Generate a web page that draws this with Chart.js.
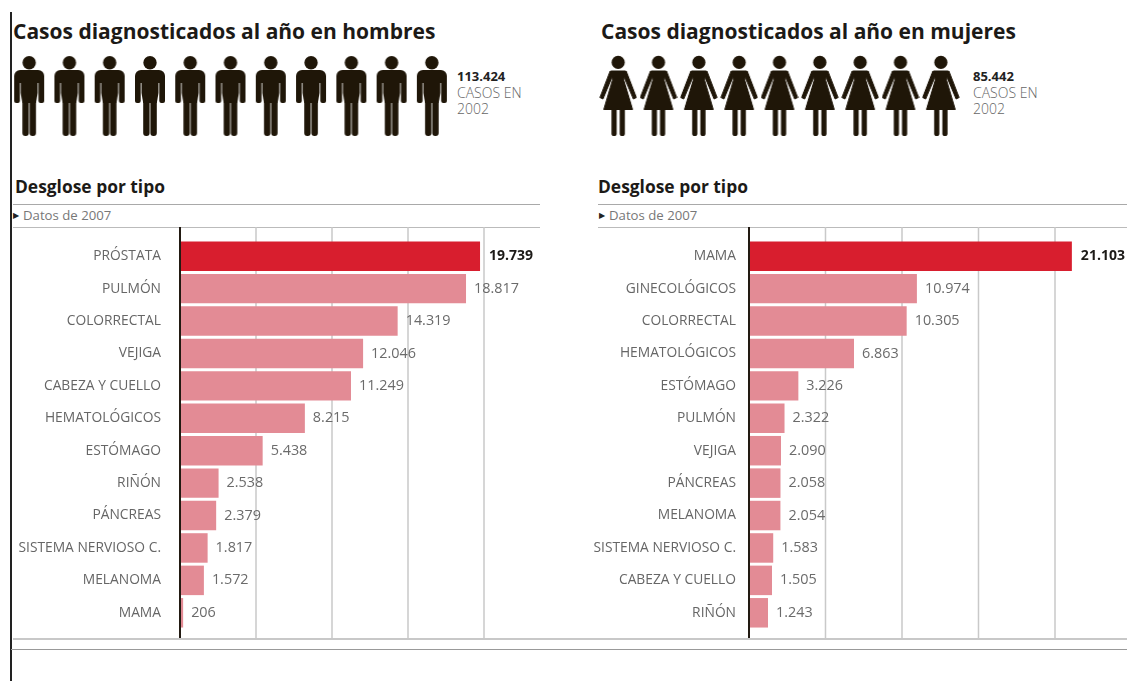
<!DOCTYPE html>
<html lang="es">
<head>
<meta charset="utf-8">
<title>Casos diagnosticados al año</title>
<script src="https://cdn.jsdelivr.net/npm/chart.js@4/dist/chart.umd.min.js"></script>
<style>
  html, body { margin: 0; padding: 0; background: #fff; }
  body { position: relative; width: 1127px; height: 681px; overflow: hidden; font-family: "Open Sans", sans-serif; }
  canvas { position: absolute; display: block; }
  .txt { position: absolute; white-space: nowrap; line-height: 1; }
  .title { font-size: 21px; font-weight: 700; color: #1c1a17; top: 21px; }
  .sub { font-size: 17.4px; font-weight: 700; color: #1c1a17; top: 178px; }
  .note { font-size: 13.2px; color: #777; top: 208.5px; }
  .note i { font-style: normal; font-size: 8px; color: #222; position: relative; top: -2px; margin-right: 4px; }
  .total { font-size: 13px; font-weight: 700; color: #222; top: 70px; }
  .caption { font-size: 14px; font-weight: 300; color: #666; line-height: 16px; top: 85px; }
  .rule { position: absolute; height: 1px; background: #a9a9a9; }
</style>
</head>
<body>
  <div class="rule" style="left:10px;top:12px;width:1.5px;height:669px;background:#222"></div>

  <div class="txt title" style="left:13px">Casos diagnosticados al año en hombres</div>
  <div class="txt title" style="left:601px">Casos diagnosticados al año en mujeres</div>

  <canvas id="menIcons" width="443" height="84" style="left:9px;top:54px"></canvas>
  <canvas id="womenIcons" width="363" height="84" style="left:598px;top:54px"></canvas>

  <div class="txt total" style="left:457px">113.424</div>
  <div class="txt caption" style="left:457px">CASOS EN<br>2002</div>
  <div class="txt total" style="left:973px">85.442</div>
  <div class="txt caption" style="left:973px">CASOS EN<br>2002</div>

  <div class="txt sub" style="left:15px">Desglose por tipo</div>
  <div class="txt sub" style="left:598px">Desglose por tipo</div>
  <div class="rule" style="left:13px;top:204px;width:527px"></div>
  <div class="rule" style="left:598px;top:204px;width:529px"></div>
  <div class="txt note" style="left:13px"><i>&#9654;</i>Datos de 2007</div>
  <div class="txt note" style="left:599px"><i>&#9654;</i>Datos de 2007</div>
  <div class="rule" style="left:13px;top:227px;width:527px;background:#bbb"></div>
  <div class="rule" style="left:598px;top:227px;width:529px;background:#bbb"></div>

  <canvas id="menChart" width="528" height="411" style="left:12px;top:227px"></canvas>
  <canvas id="womenChart" width="542" height="411" style="left:585px;top:227px"></canvas>

  <div class="rule" style="left:13px;top:638px;width:1114px;height:1.5px;background:#c8c8c8"></div>
  <div class="rule" style="left:11px;top:649px;width:1116px;background:#999"></div>

<script>
const menCategories = ["PRÓSTATA", "PULMÓN", "COLORRECTAL", "VEJIGA", "CABEZA Y CUELLO", "HEMATOLÓGICOS", "ESTÓMAGO", "RIÑÓN", "PÁNCREAS", "SISTEMA NERVIOSO C.", "MELANOMA", "MAMA"];
const menValues = [19739, 18817, 14319, 12046, 11249, 8215, 5438, 2538, 2379, 1817, 1572, 206];

const womenCategories = ["MAMA", "GINECOLÓGICOS", "COLORRECTAL", "HEMATOLÓGICOS", "ESTÓMAGO", "PULMÓN", "VEJIGA", "PÁNCREAS", "MELANOMA", "SISTEMA NERVIOSO C.", "CABEZA Y CUELLO", "RIÑÓN"];
const womenValues = [21103, 10974, 10305, 6863, 3226, 2322, 2090, 2058, 2054, 1583, 1505, 1243];

const gridValues = [5000, 10000, 15000, 20000];

// one figure per slot in the pictogram rows
const menIconSlots = [0, 1, 2, 3, 4, 5, 6, 7, 8, 9, 10];
const womenIconSlots = [0, 1, 2, 3, 4, 5, 6, 7, 8];

const INK = "#1f1608";
const RED = "#d81e2e";
const PINK = "#e38b95";

function formatThousands(v) {
  return String(v).replace(/\B(?=(\d{3})+$)/g, ".");
}

// grid and axis run the full height of the canvas, past the bar bands
const fullHeightGrid = {
  id: "fullHeightGrid",
  beforeDatasetsDraw(chart) {
    const { ctx, scales: { x }, height } = chart;
    ctx.save();
    ctx.strokeStyle = "#c9c9c9";
    ctx.lineWidth = 1.5;
    gridValues.forEach(v => {
      const px = x.getPixelForValue(v);
      ctx.beginPath();
      ctx.moveTo(px, 0);
      ctx.lineTo(px, height);
      ctx.stroke();
    });
    ctx.restore();
  },
  afterDatasetsDraw(chart) {
    const { ctx, scales: { x }, height } = chart;
    const px = x.getPixelForValue(0);
    ctx.save();
    ctx.strokeStyle = "#221a12";
    ctx.lineWidth = 2;
    ctx.beginPath();
    ctx.moveTo(px, 0);
    ctx.lineTo(px, height);
    ctx.stroke();
    ctx.restore();
  }
};

// value next to the end of each bar, first one in bold
const barValueLabels = {
  id: "barValueLabels",
  afterDatasetsDraw(chart) {
    const { ctx } = chart;
    const values = chart.data.datasets[0].data;
    ctx.save();
    ctx.textBaseline = "middle";
    ctx.textAlign = "left";
    chart.getDatasetMeta(0).data.forEach((bar, i) => {
      ctx.font = i === 0 ? '700 14px "Open Sans"' : '400 14.4px "Open Sans"';
      ctx.fillStyle = i === 0 ? "#1c1a17" : "#6b6b6b";
      ctx.fillText(formatThousands(values[i]), bar.x + (i === 0 ? 9 : 8), bar.y);
    });
    ctx.restore();
  }
};

function makeBarChart(id, categories, values, xMax, axisWidth, labelGap) {
  return new Chart(document.getElementById(id), {
    type: "bar",
    data: {
      labels: categories,
      datasets: [{
        data: values,
        backgroundColor: values.map((_, i) => i === 0 ? RED : PINK),
        barPercentage: 0.91,
        categoryPercentage: 1
      }]
    },
    options: {
      indexAxis: "y",
      responsive: false,
      animation: false,
      layout: { padding: { top: 13, bottom: 9 } },
      plugins: { legend: { display: false }, tooltip: { enabled: false } },
      scales: {
        x: { display: false, min: 0, max: xMax },
        y: {
          afterFit(scale) {
            scale.width = axisWidth;
            scale.paddingTop = 0;
            scale.paddingBottom = 0;
          },
          border: { display: false },
          grid: { display: false, drawTicks: false },
          ticks: {
            padding: labelGap,
            autoSkip: false,
            color: "#666",
            font: { family: '"Open Sans"', size: 13.8 }
          }
        }
      }
    },
    plugins: [fullHeightGrid, barValueLabels]
  });
}

makeBarChart("menChart", menCategories, menValues, 23684, 168, 19);
makeBarChart("womenChart", womenCategories, womenValues, 24706, 164, 13);

function roundedBar(ctx, x, y, w, h, r) {
  ctx.beginPath();
  ctx.roundRect(x, y, w, h, r);
  ctx.fill();
}

function manGlyph() {
  const c = document.createElement("canvas");
  c.width = 36; c.height = 82;
  const ctx = c.getContext("2d");
  ctx.fillStyle = INK;
  ctx.beginPath();
  ctx.arc(18, 7.7, 6.7, 0, Math.PI * 2);
  ctx.fill();
  roundedBar(ctx, 3, 15, 30, 13, [6, 6, 0, 0]);
  roundedBar(ctx, 3, 26, 5.7, 22, [0, 0, 2, 2]);
  roundedBar(ctx, 27.3, 26, 5.7, 22, [0, 0, 2, 2]);
  ctx.fillRect(9.5, 26, 17, 12);
  ctx.beginPath();
  ctx.moveTo(9.5, 38); ctx.lineTo(26.5, 38); ctx.lineTo(24.8, 48); ctx.lineTo(11.2, 48);
  ctx.closePath();
  ctx.fill();
  roundedBar(ctx, 11.2, 46, 6.4, 35, [0, 0, 3, 3]);
  roundedBar(ctx, 18.4, 46, 6.4, 35, [0, 0, 3, 3]);
  return c;
}

function womanGlyph() {
  const c = document.createElement("canvas");
  c.width = 38; c.height = 82;
  const ctx = c.getContext("2d");
  const fillPoly = pts => {
    ctx.beginPath();
    pts.forEach((p, i) => i ? ctx.lineTo(p[0], p[1]) : ctx.moveTo(p[0], p[1]));
    ctx.closePath();
    ctx.fill();
    ctx.stroke();
  };
  ctx.fillStyle = INK;
  ctx.strokeStyle = INK;
  ctx.lineWidth = 1;
  ctx.lineJoin = "round";
  ctx.beginPath();
  ctx.arc(19, 7.4, 6.6, 0, Math.PI * 2);
  ctx.fill();
  fillPoly([[12, 16], [26, 16], [24.6, 25], [33.4, 54.5], [4.6, 54.5], [13.4, 25]]);
  fillPoly([[11, 16], [13, 17], [12.2, 24], [3.8, 44], [0.8, 42.5]]);
  fillPoly([[27, 16], [25, 17], [25.8, 24], [34.2, 44], [37.2, 42.5]]);
  roundedBar(ctx, 12.3, 54, 5.2, 27, [0, 0, 2.6, 2.6]);
  roundedBar(ctx, 20.5, 54, 5.2, 27, [0, 0, 2.6, 2.6]);
  return c;
}

function makeIconRow(id, slots, glyph) {
  return new Chart(document.getElementById(id), {
    type: "scatter",
    data: {
      datasets: [{
        data: slots.map(s => ({ x: s, y: 0 })),
        pointStyle: glyph,
        pointRadius: 10,
        clip: false
      }]
    },
    options: {
      responsive: false,
      animation: false,
      layout: { autoPadding: false },
      plugins: { legend: { display: false }, tooltip: { enabled: false } },
      scales: {
        x: { display: false, min: -0.5, max: slots.length - 0.5 },
        y: { display: false, min: -1, max: 1 }
      }
    }
  });
}

makeIconRow("menIcons", menIconSlots, manGlyph());
makeIconRow("womenIcons", womenIconSlots, womanGlyph());
</script>
</body>
</html>
